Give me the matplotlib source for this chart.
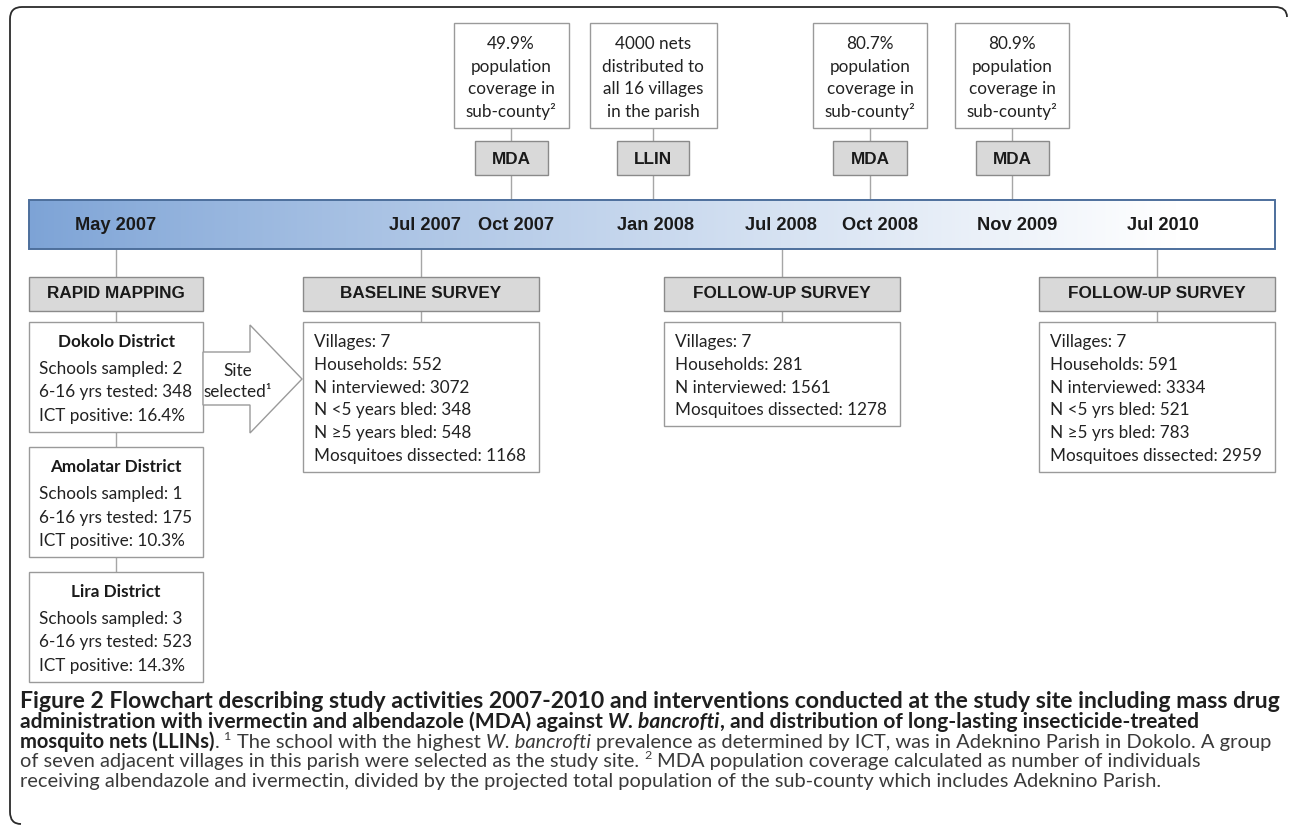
import matplotlib
matplotlib.use("Agg")
import matplotlib.pyplot as plt
import numpy as np
from matplotlib.patches import Rectangle, Polygon, PathPatch
from matplotlib.path import Path

# ---- chart content ----
dates = ["May 2007", "Jul 2007", "Oct 2007", "Jan 2008", "Jul 2008",
         "Oct 2008", "Nov 2009", "Jul 2010"]

interventions = ["MDA", "LLIN", "MDA", "MDA"]
intervention_notes = [
    ["49.9%", "population", "coverage in", "sub-county²"],
    ["4000 nets", "distributed to", "all 16 villages", "in the parish"],
    ["80.7%", "population", "coverage in", "sub-county²"],
    ["80.9%", "population", "coverage in", "sub-county²"],
]

surveys = ["RAPID MAPPING", "BASELINE SURVEY", "FOLLOW-UP SURVEY", "FOLLOW-UP SURVEY"]

districts = ["Dokolo District", "Amolatar District", "Lira District"]
schools_sampled = [2, 1, 3]
tested_6_16 = [348, 175, 523]
ict_positive = [16.4, 10.3, 14.3]

baseline_rows = ["Villages: 7", "Households: 552", "N interviewed: 3072",
                 "N <5 years bled: 348", "N ≥5 years bled: 548",
                 "Mosquitoes dissected: 1168"]
followup1_rows = ["Villages: 7", "Households: 281", "N interviewed: 1561",
                  "Mosquitoes dissected: 1278"]
followup2_rows = ["Villages: 7", "Households: 591", "N interviewed: 3334",
                  "N <5 yrs bled: 521", "N ≥5 yrs bled: 783",
                  "Mosquitoes dissected: 2959"]

# caption runs: (text, weight, style, superscript, space after)
caption_lines = [
    [("Figure 2 Flowchart describing study activities 2007-2010 and interventions conducted at the study site including mass drug", "bold", "normal", False, False)],
    [("administration with ivermectin and albendazole (MDA) against", "bold", "normal", False, True),
     ("W. bancrofti", "bold", "italic", False, False),
     (", and distribution of long-lasting insecticide-treated", "bold", "normal", False, False)],
    [("mosquito nets (LLINs)", "bold", "normal", False, False),
     (".", "normal", "normal", False, True),
     ("1", "normal", "normal", True, True),
     ("The school with the highest", "normal", "normal", False, True),
     ("W. bancrofti", "normal", "italic", False, True),
     ("prevalence as determined by ICT, was in Adeknino Parish in Dokolo. A group", "normal", "normal", False, False)],
    [("of seven adjacent villages in this parish were selected as the study site.", "normal", "normal", False, True),
     ("2", "normal", "normal", True, True),
     ("MDA population coverage calculated as number of individuals", "normal", "normal", False, False)],
    [("receiving albendazole and ivermectin, divided by the projected total population of the sub-county which includes Adeknino Parish.", "normal", "normal", False, False)],
]

# ---- layout (pixels) ----
date_x = [116, 425, 516, 656, 781, 880, 1017, 1163]
intervention_x = [511, 653, 870, 1012]
note_w = [115, 127, 114, 114]
tag_w = [73, 72, 74, 73]
survey_x = [116, 421, 782, 1157]
survey_w = [174, 236, 236, 236]
district_top = [322, 447, 572]
caption_base = [708, 728, 748, 767, 787]
caption_right = [1282, 1200, 1274, 1201, 1161]

BOX_FONT = ["Lato", "DejaVu Sans"]
HEAD_FONT = ["Liberation Sans", "DejaVu Sans"]
CAP_FONT = ["Lato", "DejaVu Sans"]
EDGE = "#9a9a9a"
GREY_FILL = "#d9d9d9"
GREY_EDGE = "#8a8a8a"
LINE = "#a6a6a6"

fig = plt.figure(figsize=(12.9, 8.31), dpi=100)
ax = fig.add_axes([0, 0, 1, 1])
renderer = fig.canvas.get_renderer()


def text_width(s, size, **kw):
    t = ax.text(0, 0, s, fontsize=size, **kw)
    w = t.get_window_extent(renderer).width
    t.remove()
    return w


def fit_size(s, target, **kw):
    return 10 * target / text_width(s, 10, **kw)


box_size = fit_size("Mosquitoes dissected: 1168", 213, family=BOX_FONT)
head_size = fit_size("BASELINE SURVEY", 161, family=HEAD_FONT, weight="bold")
date_size = fit_size("May 2007", 81, family=HEAD_FONT, weight="bold")


def box(x0, y0, x1, y1, fill="white", edge=EDGE, z=3):
    ax.add_patch(Rectangle((x0, y0), x1 - x0, y1 - y0, facecolor=fill,
                           edgecolor=edge, lw=1.0, zorder=z))


def vline(x, y0, y1):
    ax.plot([x, x], [y0, y1], color=LINE, lw=1.0, zorder=1)


# outer frame (rounded corners)
verts = [(1287, 17), (1287, 7), (1275, 7), (22, 7), (10, 7), (10, 19),
         (10, 812), (10, 824), (21, 824)]
codes = [Path.MOVETO, Path.CURVE3, Path.CURVE3, Path.LINETO, Path.CURVE3,
         Path.CURVE3, Path.LINETO, Path.CURVE3, Path.CURVE3]
ax.add_patch(PathPatch(Path(verts, codes), facecolor="none", edgecolor="#2b2b2b", lw=1.3))

# timeline bar with gradient
bar_x0, bar_x1, bar_y0, bar_y1 = 29, 1275, 200, 249
t = np.linspace(0, 1, 600)
left = np.array([0.49, 0.64, 0.84])
mix = np.clip(t / 0.92, 0, 1) ** 0.9
grad = left[None, :] * (1 - mix[:, None]) + mix[:, None]
ax.imshow(grad[None, :, :], extent=(bar_x0, bar_x1, bar_y1, bar_y0), aspect="auto", zorder=2)
ax.add_patch(Rectangle((bar_x0, bar_y0), bar_x1 - bar_x0, bar_y1 - bar_y0,
                       facecolor="none", edgecolor="#4d6f9c", lw=1.4, zorder=3))
for d, x in zip(dates, date_x):
    ax.text(x, 225, d, family=HEAD_FONT, weight="bold", fontsize=date_size,
            ha="center", va="center", color="#1a1a1a", zorder=4)

# interventions above the bar
for name, note, x, nw, tw in zip(interventions, intervention_notes, intervention_x, note_w, tag_w):
    vline(x, 128, bar_y0)
    box(x - nw / 2, 23, x + nw / 2, 128)
    for i, line in enumerate(note):
        ax.text(x, 44 + i * 22.6, line, family=BOX_FONT, fontsize=box_size,
                ha="center", va="center", color="#222222", zorder=4)
    box(x - tw / 2, 141, x + tw / 2, 175, fill=GREY_FILL, edge=GREY_EDGE)
    ax.text(x, 159, name, family=HEAD_FONT, weight="bold", fontsize=head_size,
            ha="center", va="center", color="#1a1a1a", zorder=4)

# survey headers below the bar
for name, x, w in zip(surveys, survey_x, survey_w):
    vline(x, bar_y1, 277)
    box(x - w / 2, 277, x + w / 2, 311, fill=GREY_FILL, edge=GREY_EDGE)
    ax.text(x, 294, name, family=HEAD_FONT, weight="bold", fontsize=head_size,
            ha="center", va="center", color="#1a1a1a", zorder=4)

# rapid mapping district boxes
rx, rw = survey_x[0], survey_w[0]
vline(rx, 311, district_top[-1])
for name, top, s, n, p in zip(districts, district_top, schools_sampled, tested_6_16, ict_positive):
    box(rx - rw / 2, top, rx + rw / 2, top + 110)
    ax.text(rx, top + 20, name, family=BOX_FONT, weight="bold", fontsize=box_size,
            ha="center", va="center", color="#1a1a1a", zorder=4)
    rows = [f"Schools sampled: {s}", f"6-16 yrs tested: {n}", f"ICT positive: {p}%"]
    for i, r in enumerate(rows):
        ax.text(rx - rw / 2 + 10, top + 47 + i * 23.5, r, family=BOX_FONT,
                fontsize=box_size, ha="left", va="center", color="#222222", zorder=4)

# survey detail boxes
for x, w, rows in zip(survey_x[1:], survey_w[1:], [baseline_rows, followup1_rows, followup2_rows]):
    vline(x, 311, 322)
    h = 20 + (len(rows) - 1) * 22.8 + 16
    box(x - w / 2, 322, x + w / 2, 322 + h)
    for i, r in enumerate(rows):
        ax.text(x - w / 2 + 11, 342 + i * 22.8, r, family=BOX_FONT, fontsize=box_size,
                ha="left", va="center", color="#222222", zorder=4)

# "site selected" arrow
arrow = [(203, 352), (250, 352), (250, 325), (302, 379), (250, 433), (250, 405), (203, 405)]
ax.add_patch(Polygon(arrow, closed=True, facecolor="white", edgecolor=EDGE, lw=1.0, zorder=3))
ax.text(238, 371, "Site", family=BOX_FONT, fontsize=box_size, ha="center", va="center",
        color="#222222", zorder=4)
ax.text(238, 392, "selected¹", family=BOX_FONT, fontsize=box_size, ha="center", va="center",
        color="#222222", zorder=4)


# caption with mixed styles
def draw_runs(x, y, runs, size, draw=True):
    space = text_width("a a", size, family=CAP_FONT) - text_width("aa", size, family=CAP_FONT)
    for text, weight, style, sup, gap in runs:
        s = size * 0.62 if sup else size
        col = "#1f1f1f" if weight == "bold" else "#3a3a3a"
        tx = ax.text(x, y - (size * 0.55 if sup else 0), text, family=CAP_FONT, fontsize=s,
                     weight=weight, style=style, ha="left", va="baseline", color=col, zorder=4)
        x += tx.get_window_extent(renderer).width
        if not draw:
            tx.remove()
        if gap:
            x += space
    return x


for runs, yb, xr in zip(caption_lines, caption_base, caption_right):
    w10 = draw_runs(20, yb, runs, 10, draw=False) - 20
    draw_runs(20, yb, runs, 10 * (xr - 20) / w10)

ax.set_xlim(0, 1290)
ax.set_ylim(831, 0)
ax.axis("off")
fig.savefig("out.png", dpi=100)
